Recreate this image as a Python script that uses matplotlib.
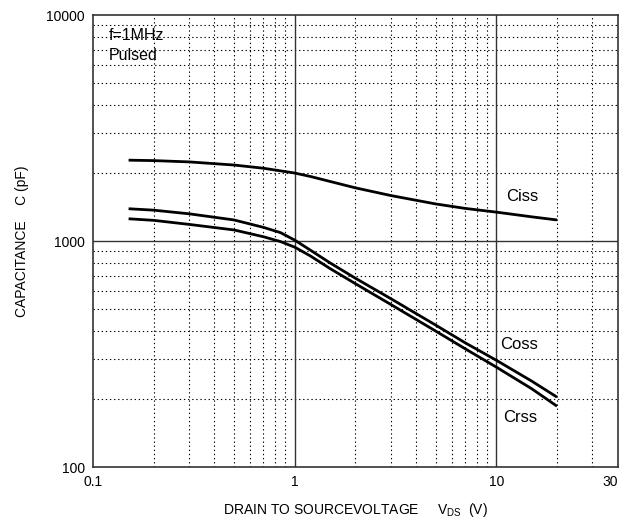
import numpy as np
import matplotlib.pyplot as plt
from matplotlib.ticker import NullFormatter, NullLocator

plt.rcParams["font.family"] = ["Liberation Sans", "DejaVu Sans"]

# values (V, pF)
vds = [0.15, 0.2, 0.3, 0.5, 0.7, 0.85, 1.0, 1.2, 1.5, 2.0, 3.0, 5.0, 7.0, 10.0, 15.0, 20.0]
ciss = [2280, 2270, 2240, 2170, 2100, 2045, 2000, 1930, 1835, 1720, 1590, 1460, 1395, 1343, 1280, 1240]
coss = [1390, 1370, 1320, 1240, 1150, 1090, 1010, 910, 800, 685, 556, 425, 355, 297, 240, 204]
crss = [1255, 1235, 1185, 1120, 1045, 995, 940, 858, 755, 648, 524, 400, 334, 277, 222, 186]

x_ticks = [0.1, 1, 10, 40]
x_labels = ["0.1", "1", "10", "30"]
y_ticks = [100, 1000, 10000]
y_labels = ["100", "1000", "10000"]


def main():
    fig = plt.figure(figsize=(6.29, 5.19), dpi=100)
    ax = fig.add_axes([0.148, 0.1, 0.834, 0.871])
    ax.set_xscale("log")
    ax.set_yscale("log")
    ax.set_xlim(0.1, 40)
    ax.set_ylim(100, 10000)

    # dotted minor grid, solid decade lines
    minor_x = [m * d for d in (0.1, 1, 10) for m in range(2, 10) if m * d < 40]
    minor_y = [m * d for d in (100, 1000) for m in range(2, 10)]
    for v in minor_x:
        ax.axvline(v, color="black", lw=0.8, ls=(0, (1.2, 2.5)), zorder=1)
    for v in minor_y:
        ax.axhline(v, color="black", lw=0.8, ls=(0, (1.2, 2.5)), zorder=1)
    for v in (1, 10):
        ax.axvline(v, color="#333333", lw=1.0, zorder=1)
    ax.axhline(1000, color="#333333", lw=1.0, zorder=1)

    for series in (ciss, coss, crss):
        ax.plot(vds, series, color="black", lw=2.0, zorder=3, solid_capstyle="butt")

    ax.text(11.2, 1567, "Ciss", fontsize=12, va="center")
    ax.text(10.45, 347, "Coss", fontsize=12, va="center")
    ax.text(10.8, 166, "Crss", fontsize=12, va="center")
    ax.text(0.12, 8150, "f=1MHz", fontsize=11.5, va="center")
    ax.text(0.12, 6650, "Pulsed", fontsize=11.5, va="center")

    ax.xaxis.set_minor_locator(NullLocator())
    ax.yaxis.set_minor_locator(NullLocator())
    ax.xaxis.set_minor_formatter(NullFormatter())
    ax.yaxis.set_minor_formatter(NullFormatter())
    ax.set_xticks(x_ticks)
    ax.set_xticklabels(x_labels, fontsize=10)
    ax.set_yticks(y_ticks)
    ax.set_yticklabels(y_labels, fontsize=10)
    ax.tick_params(length=0, pad=6)
    ax.get_xticklabels()[-1].set_horizontalalignment("right")

    for s in ax.spines.values():
        s.set_linewidth(1.2)
        s.set_color("#333333")

    ax.set_xlabel("DRAIN TO SOURCEVOLTAGE     V$_{\\mathregular{DS}}$  (V)", fontsize=10, labelpad=8)
    ax.set_ylabel("CAPACITANCE    C (pF)", fontsize=10, labelpad=12)

    fig.savefig("out.png", dpi=100)


if __name__ == "__main__":
    main()
